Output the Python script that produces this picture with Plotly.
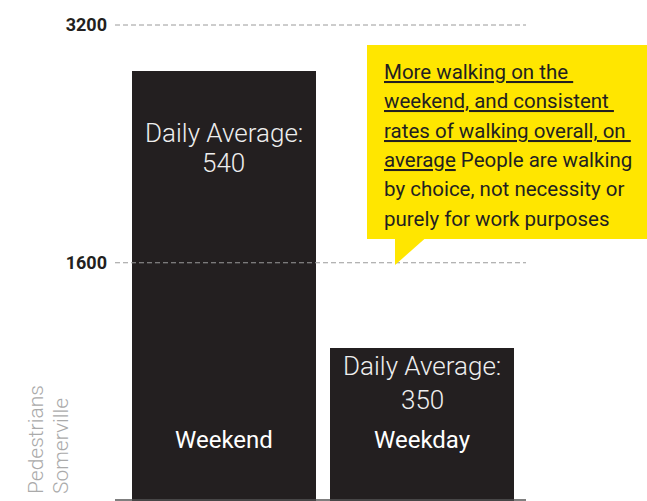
import plotly.graph_objects as go

# Data
categories = ["Weekend", "Weekday"]
pedestrians = [2890, 1026]
daily_average = [540, 350]
tick_values = [1600, 3200]
tick_labels = ["1600", "3200"]
note_lines = [
    "<u>More walking on the </u>",
    "<u>weekend, and consistent </u>",
    "<u>rates of walking overall, on </u>",
    "<u>average</u> People are walking",
    "by choice, not necessity or",
    "purely for work purposes",
]

W, H = 647, 501
L, R, T, B = 115, 526, 10, 501  # plot area in pixels

def xp(px):
    return (px - L) / (R - L)

def yp(py):
    return (B - py) / (B - T)

# y scale: 0 sits on the baseline, 3200 at the top gridline
y_zero_px, y_top_px, y_top_val = 500.5, 25.0, 3200.0
k = (y_zero_px - y_top_px) / y_top_val
y_range = [(y_zero_px - B) / k, (y_zero_px - T) / k]

BAR = "#231f20"
YELLOW = "#ffe600"
FONT = "Roboto"

fig = go.Figure(
    go.Bar(
        x=categories,
        y=pedestrians,
        width=0.93,
        marker=dict(color=BAR, line=dict(width=0)),
        hoverinfo="skip",
    )
)

shapes = []
# dashed gridlines drawn over the bars
for v in tick_values:
    shapes.append(dict(type="line", xref="paper", yref="y", x0=0, x1=1, y0=v, y1=v,
                       line=dict(color="#9a9a9a", width=1, dash="5px,3px"), layer="above"))
# baseline
shapes.append(dict(type="line", xref="paper", yref="paper", x0=0, x1=1.0,
                   y0=yp(500), y1=yp(500), line=dict(color="#555555", width=1.5), layer="above"))
# callout box with pointer
shapes.append(dict(type="rect", xref="paper", yref="paper",
                   x0=xp(367), x1=xp(650), y0=yp(239), y1=yp(45),
                   fillcolor=YELLOW, line=dict(width=0), layer="above"))
shapes.append(dict(type="path", xref="paper", yref="paper",
                   path=f"M {xp(395)} {yp(238.5)} L {xp(425)} {yp(238.5)} L {xp(395)} {yp(265)} Z",
                   fillcolor=YELLOW, line=dict(width=0), layer="above"))

annotations = []
# callout text, one line per annotation for even leading
for i, line in enumerate(note_lines):
    annotations.append(dict(xref="paper", yref="paper", x=xp(382), y=yp(72 + i * 29.3),
                            xanchor="left", yanchor="middle", showarrow=False, text=line,
                            font=dict(family=FONT, size=20.5, color="#231f20")))

# category labels and daily averages inside the bars
avg_rows = {"Weekend": (133, 163), "Weekday": (366, 400)}
for cat, avg in zip(categories, daily_average):
    r1, r2 = avg_rows[cat]
    annotations.append(dict(xref="x", yref="paper", x=cat, y=yp(r1), xanchor="center",
                            yanchor="middle", showarrow=False, text="Daily Average:",
                            font=dict(family=FONT, size=26, color="#eeeeee", weight=300)))
    annotations.append(dict(xref="x", yref="paper", x=cat, y=yp(r2), xanchor="center",
                            yanchor="middle", showarrow=False, text=str(avg),
                            font=dict(family=FONT, size=26, color="#eeeeee", weight=300)))
    annotations.append(dict(xref="x", yref="paper", x=cat, y=yp(440), xanchor="center",
                            yanchor="middle", showarrow=False, text=cat,
                            font=dict(family=FONT, size=24, color="#ffffff", weight=400)))

# rotated axis title
for text, cx in (("Pedestrians", 35.5), ("Somerville", 61)):
    annotations.append(dict(xref="paper", yref="paper", x=xp(cx), y=yp(496), xanchor="center",
                            yanchor="bottom", showarrow=False, text=text, textangle=-90,
                            font=dict(family=FONT, size=21, color="#aaaaaa", weight=300)))

fig.update_layout(
    width=W, height=H,
    margin=dict(l=L, r=W - R, t=T, b=H - B, pad=0),
    paper_bgcolor="white", plot_bgcolor="white",
    showlegend=False,
    bargap=0,
    xaxis=dict(range=[-0.55, 1.525], showticklabels=False, showgrid=False, zeroline=False,
               showline=False, ticks="", fixedrange=True),
    yaxis=dict(range=y_range, tickvals=tick_values, ticktext=tick_labels, showgrid=False,
               zeroline=False, showline=False, ticks="", ticklabelstandoff=7,
               tickfont=dict(family=FONT, size=18, color="#231f20", weight=700), fixedrange=True),
    shapes=shapes,
    annotations=annotations,
)

fig.write_html("out.html", config={"displayModeBar": False})
